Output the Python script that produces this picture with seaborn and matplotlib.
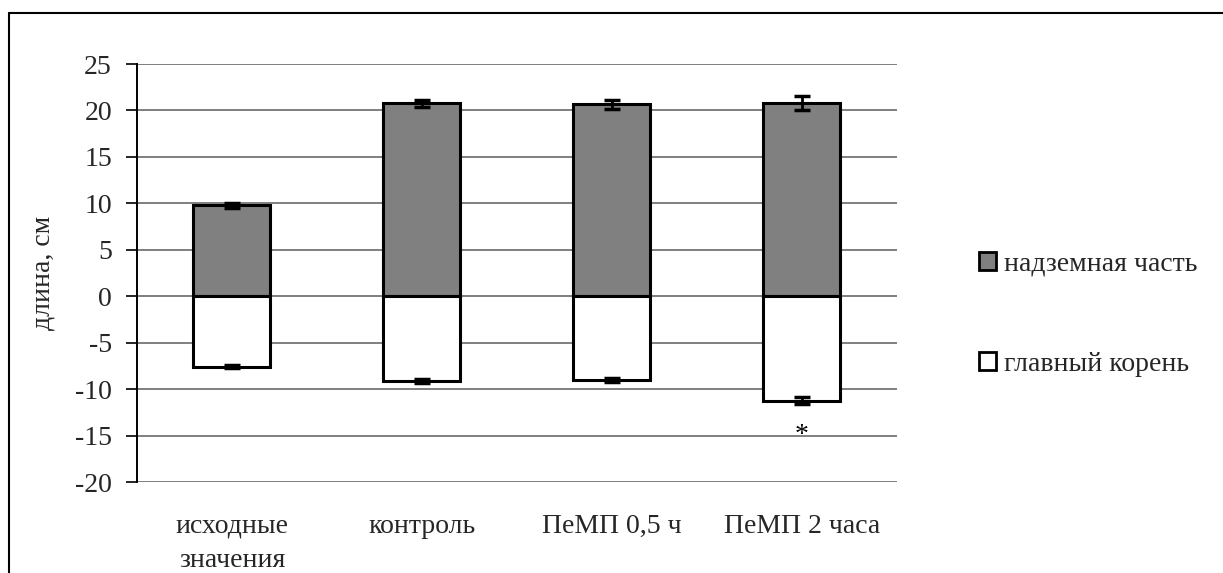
import matplotlib
matplotlib.use("Agg")
import matplotlib.pyplot as plt
from matplotlib.patches import Patch
from matplotlib.lines import Line2D
import seaborn as sns
import pandas as pd

# Seedling length by treatment: shoot (positive) and main root (negative)
categories = ["исходные\nзначения", "контроль", "ПеМП 0,5 ч", "ПеМП 2 часа"]
shoot_len = [9.8, 20.75, 20.65, 20.85]
shoot_err = [0.25, 0.35, 0.45, 0.75]
root_len = [-7.6, -9.1, -9.05, -11.25]
root_err = [0.15, 0.2, 0.2, 0.4]
significance = ["", "", "", "*"]

series_names = ["надземная часть", "главный корень"]
series_colors = ["#808080", "#ffffff"]

sns.set_theme(style="white")
plt.rcParams["font.family"] = ["Liberation Serif", "DejaVu Serif"]
plt.rcParams["axes.unicode_minus"] = False

FS = 20

fig = plt.figure(figsize=(12.23, 5.73), dpi=100)
ax = fig.add_axes([0.1120, 0.1588, 0.6214, 0.7295])

df_shoot = pd.DataFrame({"cat": categories, "val": shoot_len})
df_root = pd.DataFrame({"cat": categories, "val": root_len})

ax.yaxis.grid(True, color="#7f7f7f", linewidth=1.4, zorder=0)
ax.set_axisbelow(True)

sns.barplot(data=df_shoot, x="cat", y="val", color=series_colors[0], width=0.405,
            edgecolor="black", linewidth=2.2, saturation=1, ax=ax, zorder=2)
sns.barplot(data=df_root, x="cat", y="val", color=series_colors[1], width=0.405,
            edgecolor="black", linewidth=2.2, saturation=1, ax=ax, zorder=2)

pos = list(range(len(categories)))
ax.errorbar(pos, shoot_len, yerr=shoot_err, fmt="none", ecolor="black",
            elinewidth=2, capsize=6, capthick=2.5, zorder=3)
ax.errorbar(pos, root_len, yerr=root_err, fmt="none", ecolor="black",
            elinewidth=2, capsize=6, capthick=2.5, zorder=3)

for x, mark in zip(pos, significance):
    if mark:
        ax.text(x, -15.0, mark, ha="center", va="center", fontsize=FS, color="black")

ax.set_ylim(-20, 25)
ax.set_xlim(-0.5, len(categories) - 0.5)
ax.set_yticks(range(-20, 26, 5))
ax.set_xlabel("")
ax.set_ylabel("длина, см", fontsize=FS, labelpad=14)

ax.tick_params(axis="y", which="both", left=True, length=8, width=1.2, color="black",
               direction="out", labelsize=FS, pad=10)
ax.tick_params(axis="x", bottom=False, labelsize=FS, pad=17)
for lbl in ax.get_xticklabels():
    lbl.set_linespacing(1.45)

for side in ["top", "right", "bottom"]:
    ax.spines[side].set_visible(False)
ax.spines["left"].set_color("black")
ax.spines["left"].set_linewidth(1.4)

handles = [Patch(facecolor=c, edgecolor="black", linewidth=2) for c in series_colors]
fig.legend(handles, series_names, loc="center left", bbox_to_anchor=(0.780, 0.452),
           frameon=False, fontsize=FS, handlelength=0.6, handleheight=0.6,
           handletextpad=0.3, labelspacing=2.7)

# frame around the figure
fig.add_artist(Line2D([0.0074, 0.0074], [0.0, 0.978], transform=fig.transFigure,
                      color="black", linewidth=1.5))
fig.add_artist(Line2D([0.0074, 1.0], [0.978, 0.978], transform=fig.transFigure,
                      color="black", linewidth=1.5))

fig.savefig("out.png", dpi=100, facecolor="white")
